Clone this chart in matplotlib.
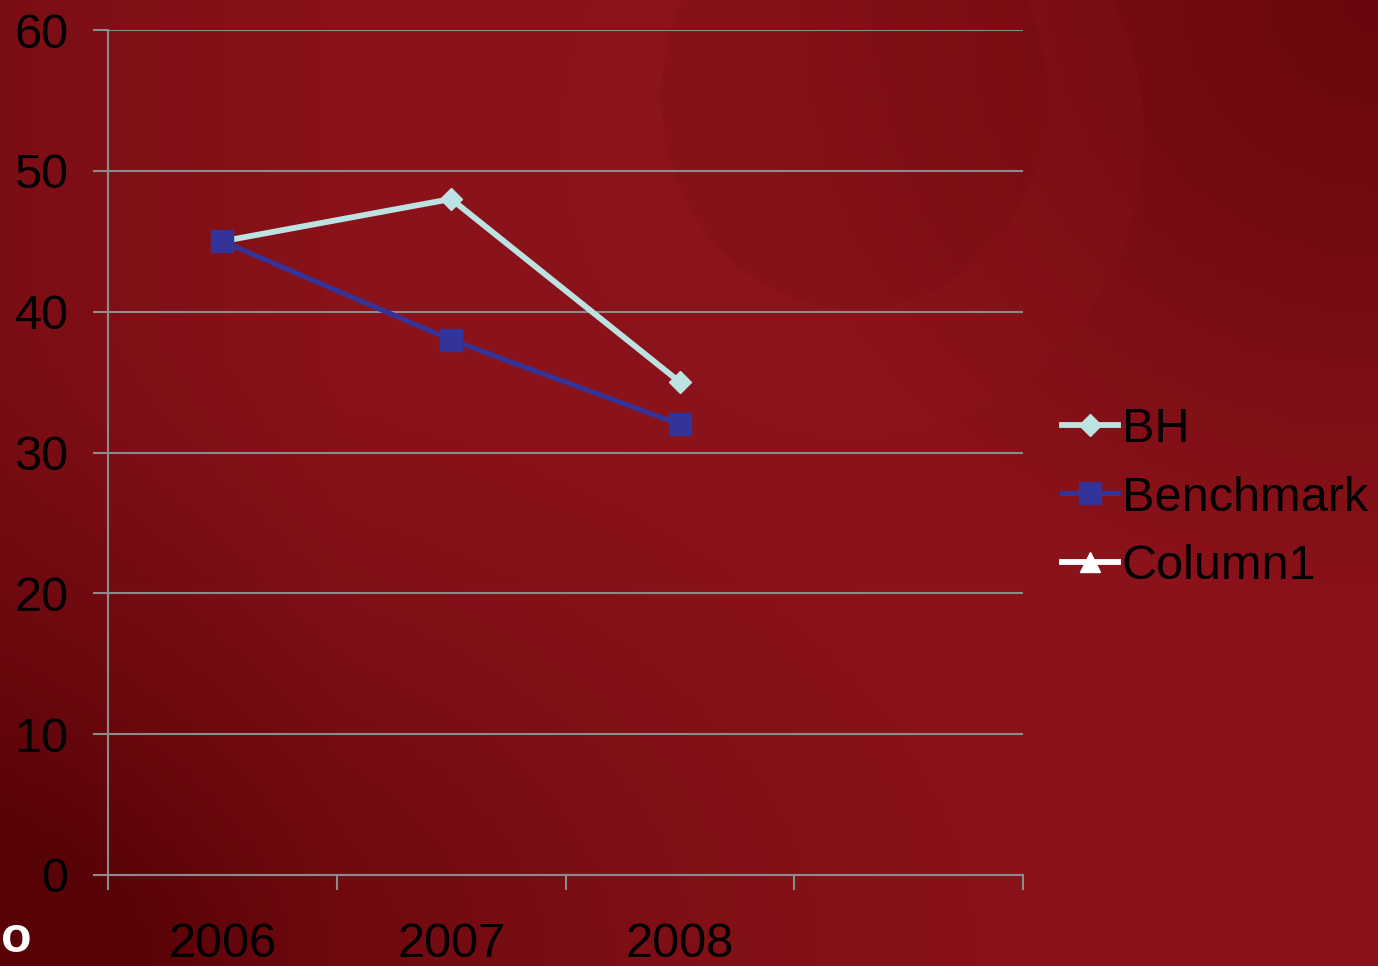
import numpy as np
import matplotlib.pyplot as plt
from matplotlib.patches import Ellipse
from matplotlib.lines import Line2D

years = ["2006", "2007", "2008"]
bh = [45, 48, 35]
benchmark = [45, 38, 32]
series_names = ["BH", "Benchmark", "Column1"]

plt.rcParams['font.family'] = ['Liberation Sans', 'DejaVu Sans']

fig = plt.figure(figsize=(13.78, 9.66), dpi=100)

# slide background: dark red gradient
bg = fig.add_axes([0, 0, 1, 1], zorder=-10)
h, w = 200, 280
yy, xx = np.mgrid[0:1:h * 1j, 0:1:w * 1j]
c_light = np.array([0x8a, 0x12, 0x1a]) / 255
c_dark = np.array([0x58, 0x03, 0x07]) / 255
bl = np.clip(1 - np.hypot(xx * 1.3, (1 - yy) * 1.5), 0, 1) ** 1.5
tr = np.clip(1 - np.hypot((1 - xx) * 2.2, yy * 1.6), 0, 1) * 0.7
lft = np.clip(0.25 - xx, 0, 1) * 1.2
t = np.clip(bl + tr + lft, 0, 1)
img = c_light[None, None, :] * (1 - t[..., None]) + c_dark[None, None, :] * t[..., None]
bg.imshow(img, extent=[0, 1, 0, 1], aspect='auto', origin='upper')
bg.add_patch(Ellipse((0.62, 0.86), 0.42, 0.62, color='#9a1c24', alpha=0.12, lw=0))
bg.add_patch(Ellipse((0.62, 0.90), 0.28, 0.44, color='#6e080e', alpha=0.15, lw=0))
bg.set_xlim(0, 1)
bg.set_ylim(0, 1)
bg.axis('off')
bg.text(0.001, 0.028, "o", color='white', fontsize=36, fontweight='bold',
        ha='left', va='center')

ax = fig.add_axes([108 / 1378, 91 / 966, 915 / 1378, 845 / 966])
ax.set_facecolor('none')

x = np.arange(len(years)) + 0.5
ax.plot(x, bh, color='#bde2e2', lw=4.2, marker='D', markersize=11, zorder=3)
ax.plot(x, benchmark, color='#333399', lw=3.6, marker='s', markersize=16, zorder=4)

ax.set_xlim(0, 4)
ax.set_ylim(0, 60)
ax.set_yticks(range(0, 61, 10))
ax.set_xticks(range(0, 5))
ax.set_xticklabels([])
ax.set_xticks(x, minor=True)
ax.set_xticklabels(years, minor=True)
ax.tick_params(axis='x', which='major', length=11, width=1.5, color='#8c8c8c',
               direction='out')
ax.tick_params(axis='x', which='minor', length=0, pad=34, labelsize=35)
ax.tick_params(axis='y', length=11, width=1.5, color='#8c8c8c', pad=17.5,
               labelsize=35)
ax.grid(axis='y', color='#8c8c8c', lw=1.5)
for s in ['top', 'right']:
    ax.spines[s].set_visible(False)
for s in ['left', 'bottom']:
    ax.spines[s].set_color('#8c8c8c')
    ax.spines[s].set_linewidth(1.5)

handles = [
    Line2D([], [], color='#bde2e2', lw=4.2, marker='D', markersize=11),
    Line2D([], [], color='#333399', lw=3.6, marker='s', markersize=16),
    Line2D([], [], color='white', lw=4.2, marker='^', markersize=14),
]
fig.legend(handles, series_names,
           loc='center left', bbox_to_anchor=(1062 / 1378, 1 - 498 / 966),
           frameon=False, fontsize=35, handlelength=1.15, handletextpad=0.08,
           labelspacing=0.49, borderpad=0, borderaxespad=0)

fig.savefig("out.png", dpi=100)
